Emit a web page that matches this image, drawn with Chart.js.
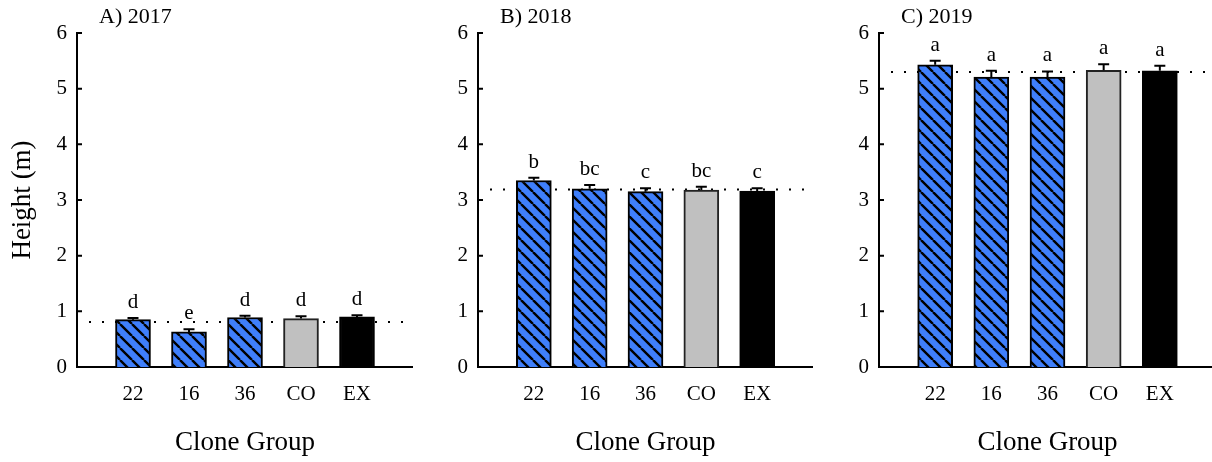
<!DOCTYPE html>
<html>
<head>
<meta charset="utf-8">
<script src="https://cdn.jsdelivr.net/npm/chart.js@4.4.1/dist/chart.umd.min.js"></script>
<style>
  html, body { margin: 0; padding: 0; background: #fff; overflow: hidden; width: 1212px; height: 462px; }
  canvas { position: absolute; top: 0; }
</style>
</head>
<body>
<canvas id="c2017" width="413" height="462" style="left:0px"></canvas>
<canvas id="c2018" width="400" height="462" style="left:413px"></canvas>
<canvas id="c2019" width="403" height="462" style="left:813px"></canvas>
<script>
// Clone groups on the x axis
const clones = ['22', '16', '36', 'CO', 'EX'];
const panelTitles = ['A) 2017', 'B) 2018', 'C) 2019'];
const yTicks = [0, 1, 2, 3, 4, 5, 6];

// Mean tree height (m) and standard error per clone group
const height2017 = [0.85, 0.63, 0.89, 0.87, 0.90];
const se2017     = [0.03, 0.05, 0.03, 0.04, 0.03];
const letters2017 = ['d', 'e', 'd', 'd', 'd'];

const height2018 = [3.35, 3.20, 3.15, 3.18, 3.16];
const se2018     = [0.05, 0.07, 0.06, 0.06, 0.05];
const letters2018 = ['b', 'bc', 'c', 'bc', 'c'];

const height2019 = [5.43, 5.21, 5.21, 5.33, 5.32];
const se2019     = [0.07, 0.11, 0.10, 0.11, 0.09];
const letters2019 = ['a', 'a', 'a', 'a', 'a'];

// Overall mean height for each year (dotted reference line)
const overallMean = [0.81, 3.19, 5.30];

const FONT = "'Liberation Serif', 'Times New Roman', serif";
Chart.defaults.font.family = FONT;
Chart.defaults.color = '#000';

function hatchPattern() {
  const s = 12;
  const tile = document.createElement('canvas');
  tile.width = s; tile.height = s;
  const g = tile.getContext('2d');
  g.fillStyle = '#3f7ffb';
  g.fillRect(0, 0, s, s);
  g.strokeStyle = '#000';
  g.lineWidth = 2.4;
  g.beginPath();
  for (const o of [-s, 0, s]) { g.moveTo(o, 0); g.lineTo(o + s, s); }
  g.stroke();
  return g.createPattern(tile, 'repeat');
}

// Error bars, significance letters, mean line, inward ticks and panel tag
const annotate = {
  id: 'annotate',
  beforeDatasetsDraw(chart, args, opts) {
    const { ctx, chartArea, scales: { y } } = chart;
    const py = y.getPixelForValue(opts.mean);
    ctx.save();
    ctx.strokeStyle = '#000';
    ctx.lineWidth = 2;
    ctx.setLineDash([2, 11]);
    ctx.beginPath();
    ctx.moveTo(chartArea.left + 12, py);
    ctx.lineTo(chartArea.right, py);
    ctx.stroke();
    ctx.restore();
  },
  afterDatasetsDraw(chart, args, opts) {
    const { ctx, chartArea, scales: { y } } = chart;
    const values = chart.data.datasets[0].data;
    const meta = chart.getDatasetMeta(0);
    ctx.save();
    ctx.strokeStyle = '#000';
    ctx.fillStyle = '#000';
    ctx.lineWidth = 2;
    meta.data.forEach((bar, i) => {
      const v = values[i];
      if (v == null) return;
      const k = i - 1;
      const yBar = y.getPixelForValue(v);
      const yTop = y.getPixelForValue(v + opts.se[k]);
      ctx.beginPath();
      ctx.moveTo(bar.x, yBar);
      ctx.lineTo(bar.x, yTop);
      ctx.moveTo(bar.x - 5.5, yTop);
      ctx.lineTo(bar.x + 5.5, yTop);
      ctx.stroke();
      ctx.font = '21px ' + FONT;
      ctx.textAlign = 'center';
      ctx.textBaseline = 'alphabetic';
      ctx.fillText(opts.letters[k], bar.x, yTop - 10);
    });
    // inward tick marks on the y axis
    ctx.beginPath();
    yTicks.forEach(t => {
      const p = y.getPixelForValue(t);
      ctx.moveTo(chartArea.left, p);
      ctx.lineTo(chartArea.left + 5, p);
    });
    ctx.stroke();
    // panel tag
    ctx.font = '22px ' + FONT;
    ctx.textAlign = 'left';
    ctx.textBaseline = 'middle';
    ctx.fillText(opts.title, chartArea.left + 22, 17);
    ctx.restore();
  }
};

function makePanel(id, idx, values, se, letters, axisWidth, showYTitle) {
  const fills = [null, hatchPattern(), hatchPattern(), hatchPattern(), '#c0c0c0', '#000', null];
  const borders = [null, '#000', '#000', '#000', '#222', '#000', null];
  new Chart(document.getElementById(id), {
    type: 'bar',
    data: {
      labels: ['', ...clones, ''],
      datasets: [{
        data: [null, ...values, null],
        backgroundColor: fills,
        borderColor: borders,
        borderWidth: 2,
        barThickness: 35
      }]
    },
    options: {
      responsive: false,
      animation: false,
      events: [],
      layout: { padding: { top: 33, right: 0, bottom: 0, left: 0 } },
      plugins: {
        legend: { display: false },
        tooltip: { enabled: false },
        annotate: { mean: overallMean[idx], se: se, letters: letters, title: panelTitles[idx] }
      },
      scales: {
        x: {
          type: 'category',
          offset: false,
          grid: { display: false, drawTicks: false },
          border: { display: true, color: '#000', width: 2 },
          ticks: { font: { size: 21 }, color: '#000', padding: 15, autoSkip: false, maxRotation: 0 },
          title: { display: true, text: 'Clone Group', font: { size: 27 }, color: '#000', padding: { top: 0, bottom: 3 } },
          afterFit(s) { s.height = 95; s.paddingLeft = 0; s.paddingRight = 0; }
        },
        y: {
          min: 0, max: 6,
          afterBuildTicks(s) { s.ticks = yTicks.map(v => ({ value: v })); },
          grid: { display: false, drawTicks: false },
          border: { display: true, color: '#000', width: 2 },
          ticks: { font: { size: 21 }, color: '#000', padding: 10 },
          title: { display: showYTitle, text: 'Height (m)', font: { size: 27 }, color: '#000', padding: { top: 7, bottom: 0 } },
          afterFit(s) { s.width = axisWidth; }
        }
      }
    },
    plugins: [annotate]
  });
}

makePanel('c2017', 0, height2017, se2017, letters2017, 77, true);
makePanel('c2018', 1, height2018, se2018, letters2018, 65, false);
makePanel('c2019', 2, height2019, se2019, letters2019, 66, false);
</script>
</body>
</html>
